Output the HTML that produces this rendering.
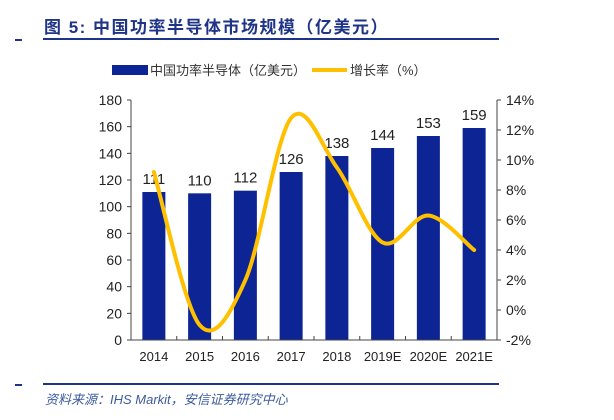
<!DOCTYPE html>
<html><head><meta charset="utf-8"><style>
body{margin:0;background:#fff;width:614px;height:415px;overflow:hidden;font-family:"Liberation Sans","Noto Sans CJK SC",sans-serif}
</style></head><body>
<svg width="614" height="415" xmlns="http://www.w3.org/2000/svg">
<text x="44" y="33" font-size="17" font-weight="bold" fill="#1f3486" font-family="'Liberation Sans','Noto Sans CJK SC',sans-serif" letter-spacing="1.5">图 5:  中国功率半导体市场规模（亿美元）</text>
<rect x="15" y="39" width="7" height="2" fill="#1f3486"/>
<rect x="43" y="38" width="456" height="2" fill="#1f3486"/>
<g font-size="13" fill="#333">
<rect x="112" y="65" width="36" height="10" fill="#0c2494"/>
<text x="150" y="75">中国功率半导体（亿美元）</text>
<rect x="312" y="68" width="35" height="4" fill="#ffc000"/>
<text x="350" y="75">增长率（%）</text>
</g>
<g id="plot"></g>
<rect x="15" y="384" width="7" height="2" fill="#1f3486"/>
<rect x="43" y="383" width="456" height="2" fill="#1f3486"/>
<text x="45" y="404" font-size="13" font-style="italic" fill="#3c5aa0">资料来源：IHS Markit，安信证券研究中心</text>
</svg>
<script>
const categories=["2014","2015","2016","2017","2018","2019E","2020E","2021E"];
const marketSize=[111,110,112,126,138,144,153,159];
const growthRate=[9.2,-1.0,2.0,12.8,9.5,4.5,6.3,4.0];
const leftTicks=[0,20,40,60,80,100,120,140,160,180];
const rightTicks=[-2,0,2,4,6,8,10,12,14];
const NS="http://www.w3.org/2000/svg";
const g=document.getElementById('plot');
const X0=131,X1=497,Y0=340,Y1=100;
const band=(X1-X0)/categories.length;
const xc=i=>X0+band*(i+0.5);
const yL=v=>Y0-(v/180)*(Y0-Y1);
const yR=v=>Y0-((v+2)/16)*(Y0-Y1);
function mk(t,a){const e=document.createElementNS(NS,t);for(const k in a)e.setAttribute(k,a[k]);g.appendChild(e);return e;}
marketSize.forEach((v,i)=>{
 const r=mk('rect',{x:xc(i)-11.5,y:yL(v),width:23,height:Y0-yL(v),fill:'#0c2494'});
 
 
 const t=mk('text',{x:xc(i),y:yL(v)-8,'font-size':15,'text-anchor':'middle',fill:'#222'});
 t.textContent=v;
 
 
});
const ax=mk('path',{d:`M${X0},${Y1}V${Y0}H${X1}V${Y1}`,stroke:'#444',fill:'none','stroke-width':1});


leftTicks.forEach(v=>{
 mk('line',{x1:X0-4,x2:X0,y1:yL(v),y2:yL(v),stroke:'#444'});
 const t=mk('text',{x:X0-9,y:yL(v)+5,'font-size':14,'text-anchor':'end',fill:'#222'});
 t.textContent=v;
 
 
});
rightTicks.forEach(v=>{
 mk('line',{x1:X1,x2:X1+4,y1:yR(v),y2:yR(v),stroke:'#444'});
 const t=mk('text',{x:X1+9,y:yR(v)+5,'font-size':14,fill:'#222'});
 t.textContent=v+'%';
 
 
});
categories.forEach((c,i)=>{
 mk('line',{x1:X0+band*i,x2:X0+band*i,y1:Y0,y2:Y0-4,stroke:'#444'});
 const t=mk('text',{x:xc(i),y:Y0+21,'font-size':13,'text-anchor':'middle',fill:'#222'});
 t.textContent=c;
 
 
});
const pts=growthRate.map((v,i)=>[xc(i),yR(v)]);
let d=`M${pts[0][0]},${pts[0][1]}`;
for(let i=0;i<pts.length-1;i++){
 const p0=pts[Math.max(0,i-1)],p1=pts[i],p2=pts[i+1],p3=pts[Math.min(pts.length-1,i+2)];
 const k=1/6;
 d+=` C${p1[0]+(p2[0]-p0[0])*k},${p1[1]+(p2[1]-p0[1])*k} ${p2[0]-(p3[0]-p1[0])*k},${p2[1]-(p3[1]-p1[1])*k} ${p2[0]},${p2[1]}`;
}
const ln=mk('path',{d:d,stroke:'#ffc000','stroke-width':4,fill:'none','stroke-linecap':'round'});


</script>
</body></html>
